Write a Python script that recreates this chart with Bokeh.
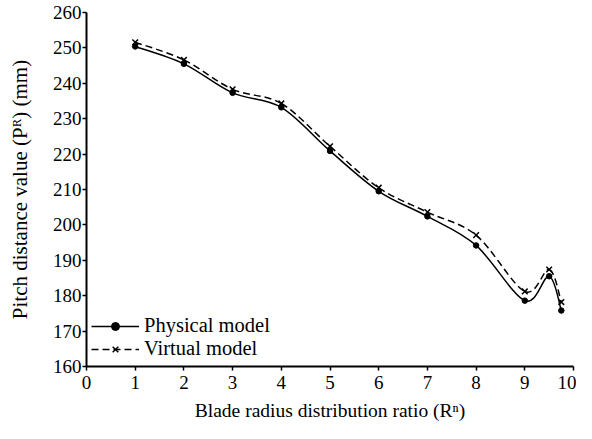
from bokeh.plotting import figure
from bokeh.models import Legend, LegendItem, ColumnDataSource, Range1d, FixedTicker
from bokeh.embed import file_html
from bokeh.resources import INLINE

# ---- data ----
ratio = [1, 2, 3, 4, 5, 6, 7, 8, 9, 9.5, 9.75]
physical = [250.4, 245.5, 237.3, 233.2, 220.9, 209.5, 202.4, 194.2, 178.6, 185.5, 175.8]
virtual = [251.6, 246.6, 238.3, 234.3, 222.2, 210.5, 203.6, 197.1, 181.2, 187.4, 178.2]
x_ticks = [0, 1, 2, 3, 4, 5, 6, 7, 8, 9, 10]
y_ticks = [160, 170, 180, 190, 200, 210, 220, 230, 240, 250, 260]

FONT = "Liberation Serif"


def smooth_source(xs, ys):
    """Cubic Bezier segments (Catmull-Rom style smoothing, like a spreadsheet 'smoothed line')."""
    n = len(xs)
    d = dict(x0=[], y0=[], x1=[], y1=[], cx0=[], cy0=[], cx1=[], cy1=[])
    for i in range(n - 1):
        a = i - 1 if i > 0 else i
        b = i + 2 if i + 2 < n else i + 1
        d["x0"].append(xs[i]); d["y0"].append(ys[i])
        d["x1"].append(xs[i + 1]); d["y1"].append(ys[i + 1])
        d["cx0"].append(xs[i] + (xs[i + 1] - xs[a]) / 6.0)
        d["cy0"].append(ys[i] + (ys[i + 1] - ys[a]) / 6.0)
        d["cx1"].append(xs[i + 1] - (xs[b] - xs[i]) / 6.0)
        d["cy1"].append(ys[i + 1] - (ys[b] - ys[i]) / 6.0)
    return ColumnDataSource(d)


p = figure(width=576, height=423, output_backend="svg", toolbar_location=None,
           x_range=Range1d(0, 10), y_range=Range1d(160, 260),
           min_border_left=86, min_border_right=3, min_border_top=12, min_border_bottom=55)
p.outline_line_color = None
p.xgrid.visible = False
p.ygrid.visible = False
p.background_fill_color = "white"

p.xaxis.ticker = FixedTicker(ticks=x_ticks)
p.yaxis.ticker = FixedTicker(ticks=y_ticks)
for ax in (p.xaxis, p.yaxis):
    ax.axis_line_width = 2
    ax.axis_line_color = "black"
    ax.major_tick_line_width = 1.5
    ax.major_tick_line_color = "black"
    ax.major_tick_out = 4
    ax.major_tick_in = 0
    ax.minor_tick_line_color = None
    ax.major_label_text_font = FONT
    ax.major_label_text_font_size = "19px"
    ax.major_label_text_color = "black"
    ax.axis_label_text_font = FONT
    ax.axis_label_text_font_style = "normal"
    ax.axis_label_text_color = "black"

p.xaxis.axis_label_text_font_size = "19.5px"
p.yaxis.axis_label_text_font_size = "21px"
p.xaxis.axis_label = "Blade radius distribution ratio (R\u207f)"
p.yaxis.axis_label = "Pitch distance value (P\u1d3f) (mm)"
p.xaxis.major_label_standoff = 5
p.xaxis.axis_label_standoff = 8
p.yaxis.major_label_standoff = 1
p.yaxis.axis_label_standoff = 18

# smoothed curves
b_virt = p.bezier(x0="x0", y0="y0", x1="x1", y1="y1", cx0="cx0", cy0="cy0", cx1="cx1", cy1="cy1",
                  source=smooth_source(ratio, virtual), line_color="black", line_width=1.5,
                  line_dash="7 4")
b_phys = p.bezier(x0="x0", y0="y0", x1="x1", y1="y1", cx0="cx0", cy0="cy0", cx1="cx1", cy1="cy1",
                  source=smooth_source(ratio, physical), line_color="black", line_width=1.5)

# markers
m_phys = p.scatter(ratio, physical, marker="circle", size=5.5, color="black")
m_virt = p.scatter(ratio, virtual, marker="x", size=8, line_color="black", line_width=1.5)

legend = Legend(items=[LegendItem(label="Physical model", renderers=[b_phys, m_phys]),
                       LegendItem(label="Virtual model", renderers=[b_virt, m_virt])],
                location=(5, 6), background_fill_alpha=0, border_line_color=None,
                label_text_font=FONT, label_text_font_size="20.5px", label_text_color="black",
                glyph_width=48, glyph_height=20, spacing=0, padding=0, margin=0,
                label_standoff=5, label_height=20)
p.add_layout(legend, "center")

open("out.html", "w").write(file_html(p, INLINE))
